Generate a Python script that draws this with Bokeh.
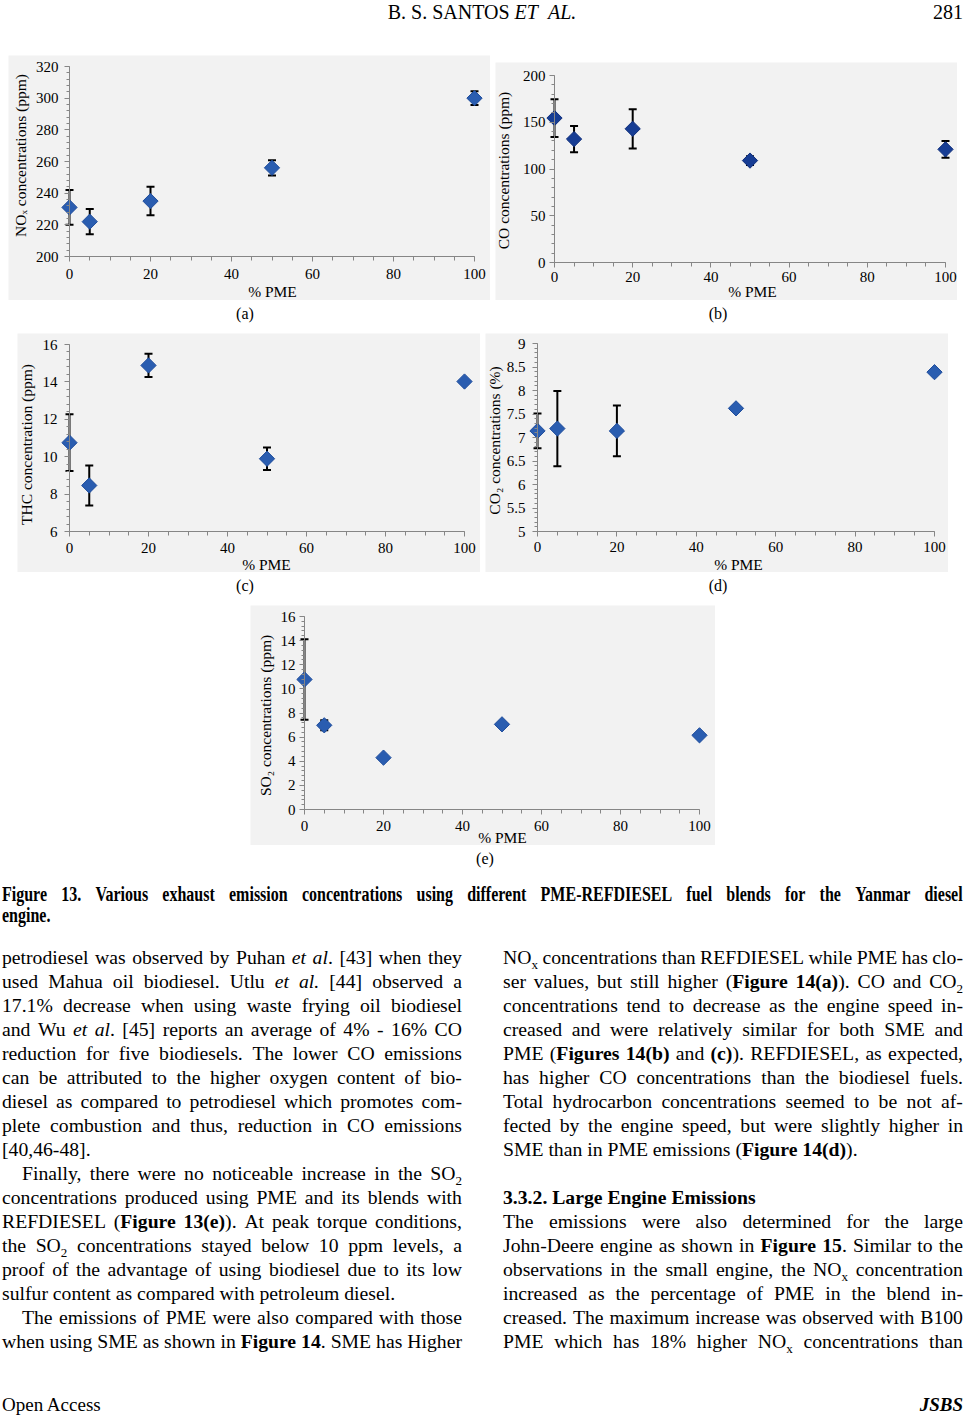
import math
from bokeh.plotting import figure
from bokeh.models import (Range1d, LinearAxis, SingleIntervalTicker, Whisker, TeeHead,
                          ColumnDataSource, Label, Div, Spacer, CustomJSTickFormatter)
from bokeh.layouts import column, row
from bokeh.embed import file_html
from bokeh.resources import INLINE

# ---------------- data ----------------
pme = [0, 5, 20, 50, 100]

nox = [231, 222, 235, 256, 300]
nox_err = [11, 8, 9, 4.8, 4.3]

co = [154.5, 132, 143, 109, 121]
co_err = [20.2, 14, 21, 4.6, 9]

thc = [10.75, 8.46, 14.88, 9.89, 14.02]
thc_err = [1.52, 1.07, 0.62, 0.6, 0.0]

co2 = [7.14, 7.19, 7.14, 7.62, 8.39]
co2_err = [0.37, 0.8, 0.54, 0.04, 0.0]

so2 = [10.78, 6.98, 4.3, 7.06, 6.15]
so2_err = [3.33, 0.42, 0.15, 0.15, 0.0]

x_ticks_step = 20

GREY = "#f2f2f2"
AXC = "#868686"
FONT = "Liberation Serif"


def chart(vals, errs, ymin, ymax, ystep, box, anchors, ytitle, ytitle_xy, xtitle_xy,
          fill, edge, ylab_gap, xlab_off):
    bx0, by0, bx1, by1 = box
    px0, px100, pyt, pyb = anchors
    kx = (px100 - px0) / 100.0
    ky = (pyb - pyt) / float(ymax - ymin)

    def dx(px):
        return (px - px0) / kx

    def dy(py):
        return ymin + (pyb - py) / ky

    p = figure(width=bx1 - bx0, height=by1 - by0,
               x_range=Range1d(dx(bx0), dx(bx1)), y_range=Range1d(dy(by1), dy(by0)),
               x_axis_type=None, y_axis_type=None, output_backend="svg",
               toolbar_location=None, min_border=0,
               background_fill_color=GREY, border_fill_color=GREY, outline_line_color=None)
    p.title.visible = False

    xa = LinearAxis(fixed_location=ymin, bounds=(0, 100),
                    ticker=SingleIntervalTicker(interval=x_ticks_step, num_minor_ticks=4))
    ya = LinearAxis(fixed_location=0, bounds=(ymin, ymax),
                    ticker=SingleIntervalTicker(interval=ystep, num_minor_ticks=5),
                    formatter=CustomJSTickFormatter(code="return String(Math.round(tick*100)/100);"))
    for ax in (xa, ya):
        ax.axis_line_color = AXC
        ax.axis_line_width = 1
        ax.major_tick_line_color = AXC
        ax.minor_tick_line_color = AXC
        ax.major_tick_in = 0
        ax.major_tick_out = 5
        ax.minor_tick_in = 0
        ax.minor_tick_out = 3
        ax.major_label_text_font = FONT
        ax.major_label_text_font_size = "15px"
        ax.major_label_text_color = "black"
    xa.minor_tick_out = 4
    xa.major_label_standoff = xlab_off
    ya.major_label_standoff = ylab_gap
    p.add_layout(xa, "below")
    p.add_layout(ya, "left")

    src = ColumnDataSource(dict(x=pme, y=vals,
                                upper=[v + e for v, e in zip(vals, errs)],
                                lower=[v - e for v, e in zip(vals, errs)]))
    p.add_layout(Whisker(base="x", upper="upper", lower="lower", source=src,
                         line_width=2, line_color="black",
                         upper_head=TeeHead(size=8, line_width=2, line_color="black"),
                         lower_head=TeeHead(size=8, line_width=2, line_color="black")))
    p.scatter("x", "y", source=src, marker="square", angle=math.pi / 4, size=10.8,
              fill_color=fill, line_color=edge, line_width=1)

    p.add_layout(Label(x=dx(ytitle_xy[0]), y=dy(ytitle_xy[1]), text=ytitle, angle=math.pi / 2,
                       text_align="center", text_baseline="middle", text_font=FONT,
                       text_font_size="15.5px", text_color="black"))
    p.add_layout(Label(x=dx(xtitle_xy[0]), y=dy(xtitle_xy[1]), text="% PME",
                       text_align="center", text_baseline="middle", text_font=FONT,
                       text_font_size="15.5px", text_color="black"))
    return p


BLUE = "#2a5db0"
BLUE_E = "#1f4d9c"
NAVY = "#173d94"
NAVY_E = "#102f7c"

fa = chart(nox, nox_err, 200, 320, 20, (8, 55, 490, 300), (69, 474, 66, 256),
           "NO\u2093 concentrations (ppm)", (20, 155), (272, 291), BLUE, BLUE_E, 6, 7)
fb = chart(co, co_err, 0, 200, 50, (495, 62, 957, 300), (554, 945, 75, 262),
           "CO concentrations (ppm)", (503, 170), (752, 291), NAVY, NAVY_E, 4, 4)
fc = chart(thc, thc_err, 6, 16, 2, (17, 333, 480, 572), (69, 464, 344, 531),
           "THC concentration (ppm)", (26, 444), (266, 564), BLUE, BLUE_E, 7, 6)
fd = chart(co2, co2_err, 5, 9, 0.5, (485, 333, 948, 572), (537, 934, 343, 531),
           "CO\u2082 concentrations (%)", (494, 440), (738, 564), BLUE, BLUE_E, 7, 5)
fe = chart(so2, so2_err, 0, 16, 2, (250, 605, 715, 845), (304, 699, 616, 809),
           "SO\u2082 concentrations (ppm)", (265, 715), (502, 837), BLUE, BLUE_E, 4, 6)

# ---------------- text helpers ----------------
SERIF = "font-family:'Liberation Serif',serif;color:#000;"
BODY = SERIF + "font-size:19.7px;line-height:24px;"


def sub(t):
    return ('<span style="font-size:13px;position:relative;top:5px;line-height:0">%s</span>' % t)


def fix(s):
    return s.replace("_2_", sub("2")).replace("_x_", sub("x"))


def jline(text, left, top, width, style=BODY):
    words = text.split(" ")
    spans = "".join("<span>%s</span>" % fix(w) for w in words)
    return ('<div style="position:absolute;left:%spx;top:%spx;width:%spx;display:flex;'
            'justify-content:space-between;column-gap:4px;white-space:nowrap;%s">%s</div>'
            % (left, top, width, style, spans))


def pline(text, left, top, style=BODY, extra=""):
    return ('<div style="position:absolute;left:%spx;top:%spx;white-space:nowrap;%s%s">%s</div>'
            % (left, top, style, extra, fix(text)))


def wrap(inner, w, h):
    return '<div style="position:relative;width:%dpx;height:%dpx;">%s</div>' % (w, h, inner)


PAGE_W = 965

# header (div top = page y 0)
HDR = SERIF + "font-size:20px;line-height:20px;"
hdr = (pline('B. S. SANTOS <i>ET&nbsp;&nbsp;AL.</i>', 0, 2, HDR, "width:964px;text-align:center;")
       + pline('281', 0, 2, HDR, "width:963px;text-align:right;"))
header = Div(text=wrap(hdr, PAGE_W, 55), width=PAGE_W, height=55, margin=0,
             styles={"overflow": "visible"})

CAP = SERIF + "font-size:16px;line-height:18px;"


def capdiv(items, h):
    inner = "".join(pline(t, x - 50, 5, CAP, "width:100px;text-align:center;") for t, x in items)
    return Div(text=wrap(inner, PAGE_W, h), width=PAGE_W, height=h, margin=0,
               styles={"overflow": "visible"})


cap1 = capdiv([("(a)", 245), ("(b)", 718)], 33)
cap2 = capdiv([("(c)", 245), ("(d)", 718)], 33)

left_lines = [
    ("petrodiesel was observed by Puhan <i>et</i> <i>al</i>. [43] when they", True, 0),
    ("used Mahua oil biodiesel. Utlu <i>et</i> <i>al.</i> [44] observed a", True, 0),
    ("17.1% decrease when using waste frying oil biodiesel", True, 0),
    ("and Wu <i>et</i> <i>al</i>. [45] reports an average of 4% - 16% CO", True, 0),
    ("reduction for five biodiesels. The lower CO emissions", True, 0),
    ("can be attributed to the higher oxygen content of bio-", True, 0),
    ("diesel as compared to petrodiesel which promotes com-", True, 0),
    ("plete combustion and thus, reduction in CO emissions", True, 0),
    ("[40,46-48].", False, 0),
    ("Finally, there were no noticeable increase in the SO_2_", True, 20),
    ("concentrations produced using PME and its blends with", True, 0),
    ("REFDIESEL (<b>Figure</b> <b>13(e)</b>). At peak torque conditions,", True, 0),
    ("the SO_2_ concentrations stayed below 10 ppm levels, a", True, 0),
    ("proof of the advantage of using biodiesel due to its low", True, 0),
    ("sulfur content as compared with petroleum diesel.", False, 0),
    ("The emissions of PME were also compared with those", True, 20),
    ("when using SME as shown in <b>Figure</b> <b>14</b>. SME has Higher", True, 0),
]
right_lines = [
    ("NO_x_ concentrations than REFDIESEL while PME has clo-", True, 0),
    ("ser values, but still higher (<b>Figure</b> <b>14(a)</b>). CO and CO_2_", True, 0),
    ("concentrations tend to decrease as the engine speed in-", True, 0),
    ("creased and were relatively similar for both SME and", True, 0),
    ("PME (<b>Figures</b> <b>14(b)</b> and <b>(c)</b>). REFDIESEL, as expected,", True, 0),
    ("has higher CO concentrations than the biodiesel fuels.", True, 0),
    ("Total hydrocarbon concentrations seemed to be not af-", True, 0),
    ("fected by the engine speed, but were slightly higher in", True, 0),
    ("SME than in PME emissions (<b>Figure</b> <b>14(d)</b>).", False, 0),
    None,
    ("<b>3.3.2. Large Engine Emissions</b>", False, 0),
    ("The emissions were also determined for the large", True, 0),
    ("John-Deere engine as shown in <b>Figure</b> <b>15</b>. Similar to the", True, 0),
    ("observations in the small engine, the NO_x_ concentration", True, 0),
    ("increased as the percentage of PME in the blend in-", True, 0),
    ("creased. The maximum increase was observed with B100", True, 0),
    ("PME which has 18% higher NO_x_ concentrations than", True, 0),
]

# bottom div: top = page y 845, height 570
BOT_H = 570
parts = []
parts.append(pline("(e)", 485 - 50, 5, CAP, "width:100px;text-align:center;"))
CAPB = SERIF + "font-size:20px;line-height:24px;font-weight:bold;"
sx = 0.8
parts.append('<div style="position:absolute;left:2px;top:37px;transform:scaleX(%s);transform-origin:0 0;">%s</div>'
             % (sx, jline("Figure 13. Various exhaust emission concentrations using different "
                          "PME-REFDIESEL fuel blends for the Yanmar diesel", 0, 0, round(961 / sx), CAPB)
                .replace("position:absolute;", "position:relative;")))
parts.append('<div style="position:absolute;left:2px;top:58px;transform:scaleX(%s);transform-origin:0 0;">%s</div>'
             % (sx, pline("engine.", 0, 0, CAPB).replace("position:absolute;", "position:relative;")))

for col_left, lines in ((2, left_lines), (503, right_lines)):
    for i, ln in enumerate(lines):
        if ln is None:
            continue
        txt, just, ind = ln
        top = 100 + 24 * i
        if just:
            parts.append(jline(txt, col_left + ind, top, 460 - ind))
        else:
            parts.append(pline(txt, col_left + ind, top))

FOOT = SERIF + "font-size:19px;line-height:8px;"
parts.append(pline("Open Access", 2, 556, FOOT))
parts.append(pline("<b><i>JSBS</i></b>", 0, 556, FOOT, "width:963px;text-align:right;"))

bottom = Div(text=wrap("".join(parts), PAGE_W, BOT_H), width=PAGE_W, height=BOT_H, margin=0,
             styles={"overflow": "visible"})

row1 = row(Spacer(width=8, height=245), fa, Spacer(width=5, height=245),
           column(Spacer(width=462, height=7), fb))
row2 = row(Spacer(width=17, height=239), fc, Spacer(width=5, height=239), fd)
row3 = row(Spacer(width=250, height=240), fe)

page = column(header, row1, cap1, row2, cap2, row3, bottom)

open("out.html", "w").write(file_html(page, INLINE))
